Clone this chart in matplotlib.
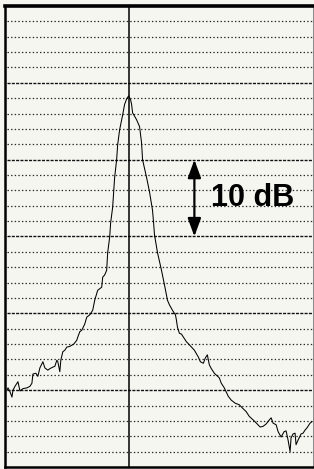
import matplotlib
matplotlib.use('Agg')
import matplotlib.pyplot as plt

plt.rcParams['lines.scale_dashes'] = False

# frequency offset from carrier (arbitrary units) and measured level (dB above bottom graticule)
freq = [-12.2, -12.1, -11.9, -11.7, -11.6, -11.4, -11.2, -11.1, -10.9, -10.6, -10.2, -9.9, -9.7,
        -9.6, -9.3, -9.1, -8.9, -8.6, -8.4, -8.1, -7.9, -7.6, -7.4, -7.2, -7.1, -6.9, -6.8, -6.6,
        -6.4, -6.2, -5.9, -5.5, -5.2, -5.1, -4.9, -4.7, -4.4, -4.2, -3.9, -3.6, -3.4, -3.1, -2.7,
        -2.6, -2.4, -2.2, -2.1, -1.9, -1.8, -1.6, -1.5, -1.4, -1.2, -1.1, -0.9, -0.6, -0.4, -0.2,
        0.0, 0.2, 0.3, 0.4, 0.8, 1.1, 1.3, 1.4, 1.8, 2.1, 2.4, 2.5, 2.6, 2.9, 3.3, 3.6, 3.9, 4.1,
        4.4, 4.7, 4.8, 4.9, 5.1, 5.3, 5.5, 5.8, 6.1, 6.6, 7.0, 7.2, 7.5, 7.7, 7.9, 8.1, 8.3, 8.6,
        9.1, 9.3, 9.6, 10.0, 10.3, 10.7, 11.1, 11.4, 11.8, 12.1, 12.6, 12.9, 13.2, 13.5, 13.8,
        14.1, 14.3, 14.5, 14.8, 15.0, 15.3, 15.6, 15.8, 16.0, 16.2, 16.3, 16.5, 16.7, 16.8, 17.0,
        17.3, 17.5, 17.7, 17.9, 18.2, 18.4]
level = [10.0, 10.3, 9.8, 9.1, 10.0, 10.5, 10.9, 11.1, 9.9, 10.2, 10.3, 10.5, 10.9,
         12.1, 12.2, 11.8, 12.9, 13.7, 12.9, 12.6, 12.8, 13.0, 13.1, 13.9, 13.7, 12.4, 13.9, 15.0,
         15.2, 15.6, 15.7, 16.0, 16.5, 16.9, 17.6, 17.8, 18.6, 19.5, 19.8, 20.4, 21.7, 23.0, 23.4,
         24.7, 25.0, 25.6, 27.9, 29.9, 31.8, 33.8, 35.7, 37.7, 40.0, 41.9, 43.9, 45.8, 47.2, 47.9,
         48.3, 47.8, 47.2, 46.1, 45.2, 44.3, 42.2, 40.0, 37.7, 35.8, 33.4, 31.9, 30.2, 27.9, 25.6,
         23.7, 21.7, 21.1, 20.4, 19.8, 19.1, 18.2, 17.4, 17.3, 16.9, 16.3, 15.9, 15.2, 14.3, 13.7,
         13.5, 14.2, 14.6, 13.3, 12.8, 12.2, 11.6, 10.9, 10.3, 9.2, 8.7, 8.3, 8.1, 7.7, 7.2, 6.6,
         6.0, 5.6, 5.2, 5.3, 5.6, 6.1, 6.4, 5.7, 5.5, 4.6, 3.9, 4.6, 4.7, 3.5, 2.0, 3.8, 4.3, 4.4,
         2.9, 3.5, 4.3, 4.4, 4.8, 5.1, 5.7, 5.9]

x_range = (-12.4, 18.5)
y_range = (0, 60)
grid_step = 2      # dB per division
major_step = 10    # dB per heavy line
scale_bottom = 30
scale_top = 40
scale_label = '10 dB'

bg = '#f6f6f1'
fig = plt.figure(figsize=(3.14, 4.69), dpi=100, facecolor=bg)
ax = fig.add_axes([5 / 314, 2 / 469, 308 / 314, 461 / 469])
ax.set_facecolor(bg)
ax.set_xlim(*x_range)
ax.set_ylim(*y_range)

# graticule
for lv in range(grid_step, y_range[1], grid_step):
    if lv % major_step == 0:
        ax.axhline(lv, color='#111111', lw=1.0, dashes=(2.2, 0.9), xmin=0.006)
    else:
        ax.axhline(lv, color='#262626', lw=0.9, dashes=(1.0, 1.6), xmin=0.006)
ax.axvline(0, color='black', lw=1.1)

ax.plot(freq, level, color='black', lw=0.75)

# 10 dB scale marker
ax.annotate('', xy=(6.6, scale_bottom), xytext=(6.6, scale_top),
            arrowprops=dict(arrowstyle='<|-|>,head_length=1.1,head_width=0.4',
                            color='black', lw=1.6, shrinkA=0, shrinkB=0))
ax.text(8.3, (scale_bottom + scale_top) / 2, scale_label, fontsize=22, fontweight='bold',
        family=['Liberation Sans', 'DejaVu Sans'], va='center', ha='left')

ax.set_xticks([])
ax.set_yticks([])
for side, w in [('left', 1.8), ('top', 2.6), ('bottom', 1.8), ('right', 0.6)]:
    ax.spines[side].set_linewidth(w)
    ax.spines[side].set_color('black')
ax.spines['right'].set_color('#777777')

fig.savefig('out.png', dpi=100, facecolor=bg)
